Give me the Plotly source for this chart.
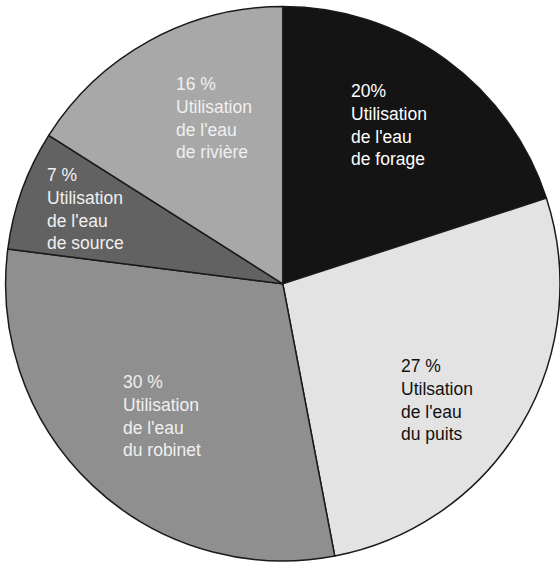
import plotly.graph_objects as go

# parts de chaque source d'eau, dans le sens horaire depuis midi
sources = ["forage", "puits", "robinet", "source", "rivière"]
pourcentages = [20, 27, 30, 7, 16]
etiquettes = [
    "20%<br>Utilisation<br>de l'eau<br>de forage",
    "27 %<br>Utilsation<br>de l'eau<br>du puits",
    "30 %<br>Utilisation<br>de l'eau<br>du robinet",
    "7 %<br>Utilisation<br>de l'eau<br>de source",
    "16 %<br>Utilisation<br>de l'eau<br>de rivière",
]
couleurs = ["#141414", "#e3e3e3", "#8f8f8f", "#626262", "#a8a8a8"]
couleurs_texte = ["#ffffff", "#111111", "#f0f0f0", "#f0f0f0", "#f0f0f0"]
# coin gauche / milieu vertical de chaque bloc de texte (pixels)
pos_texte = [(349, 125), (399, 400), (121, 416), (45, 209), (174, 118)]

W, H = 560, 562

fig = go.Figure(
    go.Pie(
        labels=sources,
        values=pourcentages,
        sort=False,
        direction="clockwise",
        rotation=0,
        textinfo="none",
        hoverinfo="label+percent",
        marker=dict(colors=couleurs, line=dict(color="#1a1a1a", width=1.5)),
        domain=dict(x=[0.01, 1], y=[0, 0.99]),
    )
)

for txt, col, (px_x, px_y) in zip(etiquettes, couleurs_texte, pos_texte):
    fig.add_annotation(
        text=txt,
        x=px_x / W,
        y=1 - px_y / H,
        xref="paper",
        yref="paper",
        xanchor="left",
        yanchor="middle",
        align="left",
        showarrow=False,
        font=dict(family="Liberation Sans", size=17.5, color=col),
    )

fig.update_layout(
    width=W,
    height=H,
    showlegend=False,
    margin=dict(l=0, r=0, t=0, b=0),
    paper_bgcolor="white",
    plot_bgcolor="white",
)

# pas de marge autour du graphique dans la page
fig.write_html(
    "out.html",
    config={"displayModeBar": False},
    post_script="document.body.style.margin='0';document.body.style.overflow='hidden';",
)
